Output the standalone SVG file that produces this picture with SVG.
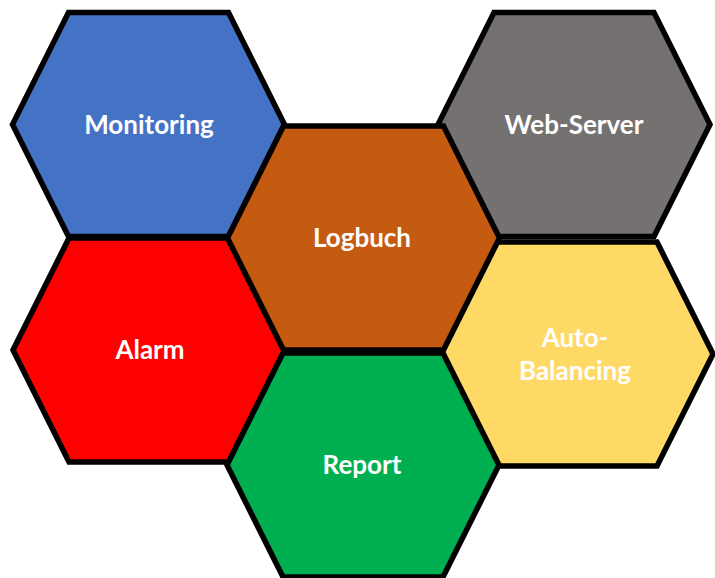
<svg xmlns="http://www.w3.org/2000/svg" width="715" height="578" viewBox="0 0 715 578">
  <style>
    .hex { stroke: #000; stroke-width: 5.5; stroke-linejoin: miter; }
    .lbl { font-family: Lato, "Liberation Sans", sans-serif; font-weight: bold; font-size: 26px; fill: #fff; text-anchor: middle; }
  </style>
  <defs>
    <!-- shared honeycomb cell, centred on the origin -->
    <polygon id="cell" points="-136,0 -80,-112 80,-112 136,0 80,112 -80,112"/>
  </defs>
  <rect width="715" height="578" fill="#fff"/>

  <g id="monitoring">
    <use href="#cell" class="hex" fill="#4472C4" transform="translate(148.5,124.5)"/>
    <text class="lbl" x="149" y="134">Monitoring</text>
  </g>
  <g id="web-server">
    <use href="#cell" class="hex" fill="#767171" transform="translate(574,124.5)"/>
    <text class="lbl" x="574" y="134">Web-Server</text>
  </g>
  <g id="alarm">
    <use href="#cell" class="hex" fill="#FF0000" transform="translate(149,350)"/>
    <text class="lbl" x="150" y="359">Alarm</text>
  </g>
  <g id="auto-balancing">
    <use href="#cell" class="hex" fill="#FFD966" transform="translate(577,354)"/>
    <text class="lbl" x="575" y="347">Auto-</text>
    <text class="lbl" x="575" y="380">Balancing</text>
  </g>
  <g id="logbuch">
    <use href="#cell" class="hex" fill="#C55A11" transform="translate(363.5,238)"/>
    <text class="lbl" x="362" y="247">Logbuch</text>
  </g>
  <g id="report">
    <use href="#cell" class="hex" fill="#00B050" transform="translate(363,465)"/>
    <text class="lbl" x="362" y="474">Report</text>
  </g>

  <g id="connectors"/>
</svg>
